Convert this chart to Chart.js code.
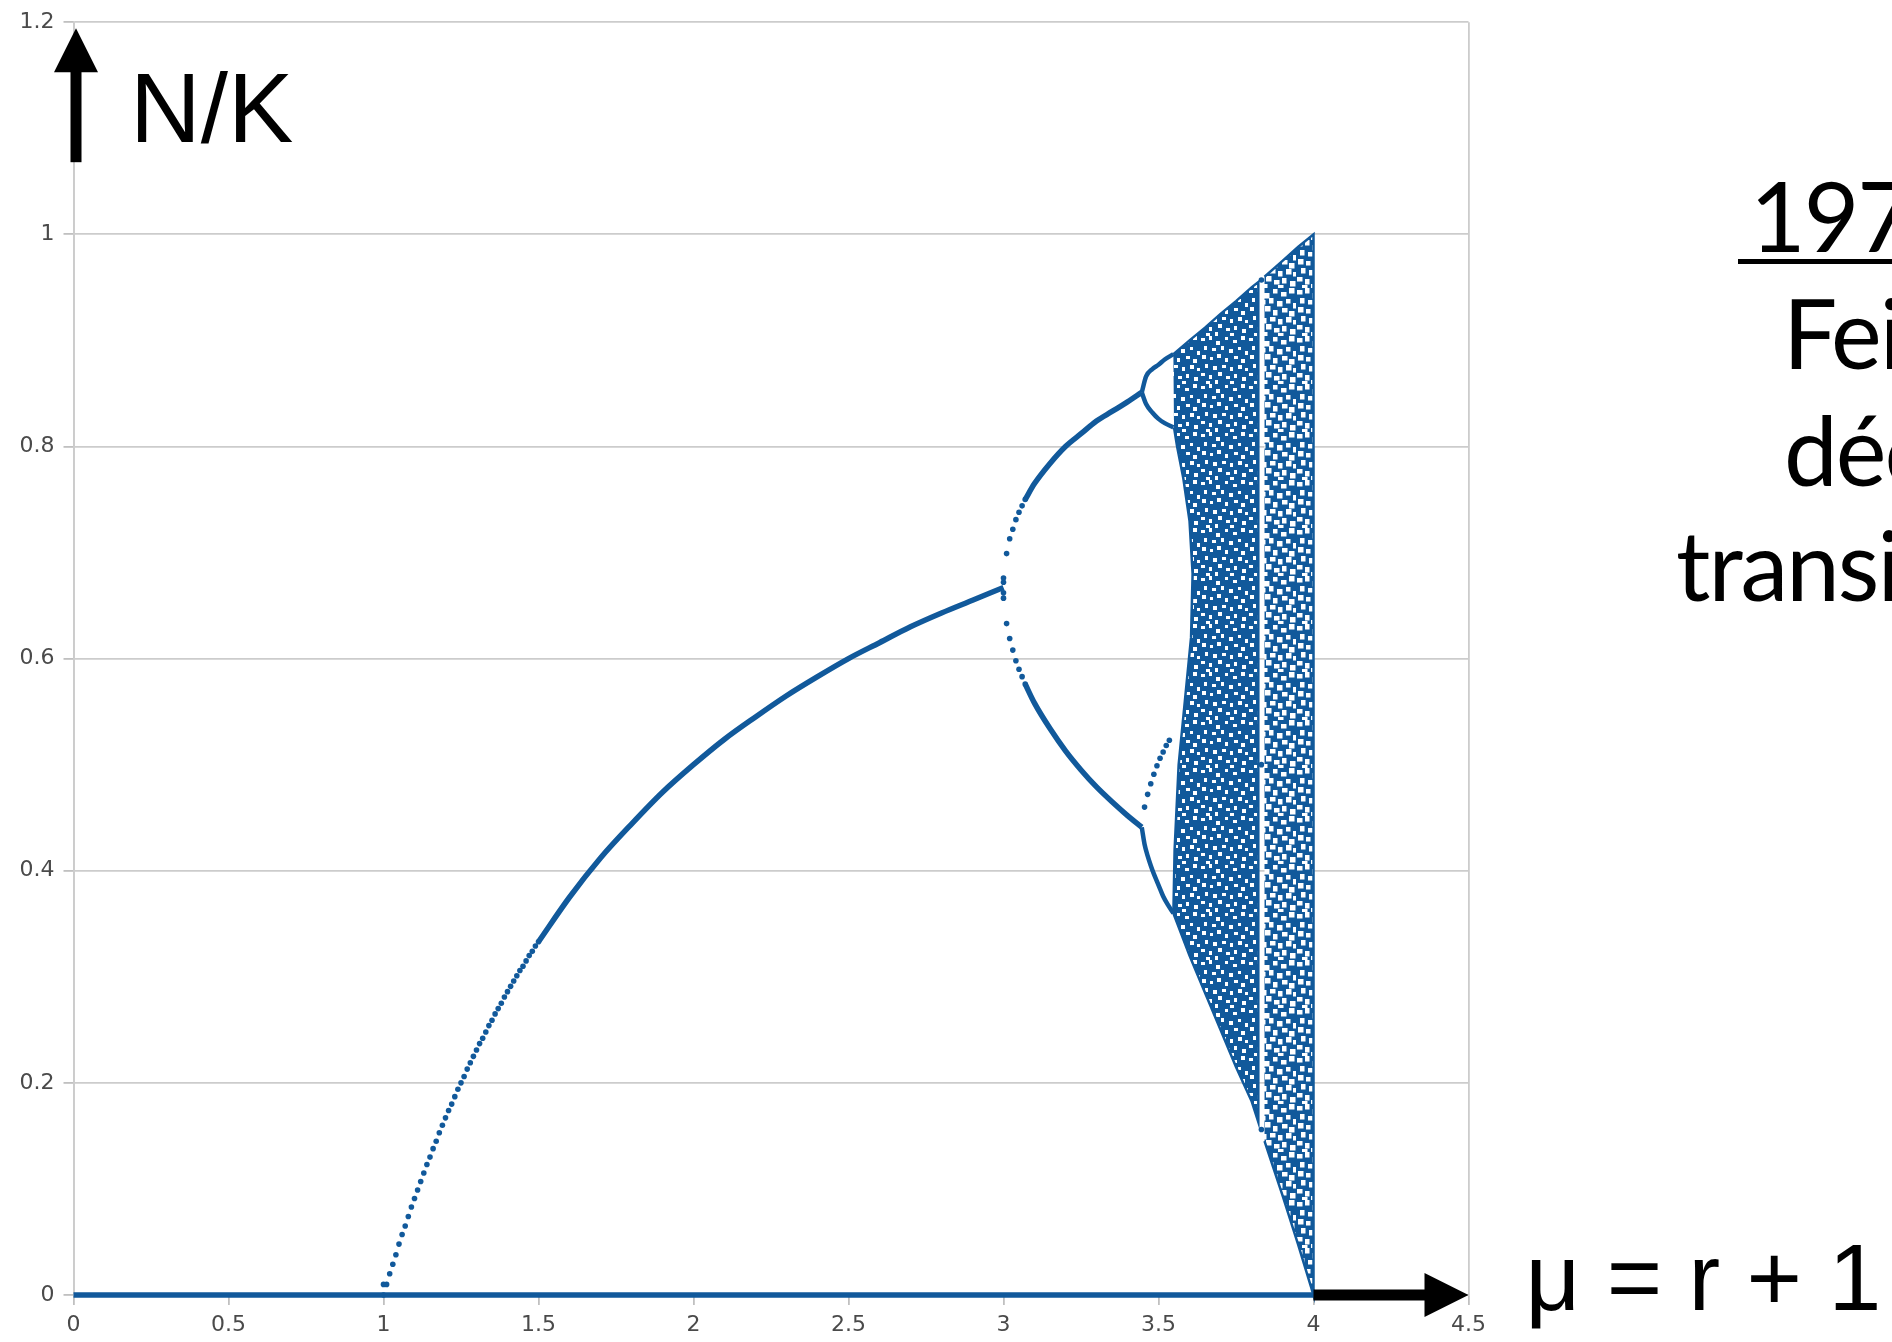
<!DOCTYPE html>
<html>
<head>
<meta charset="utf-8">
<script src="https://cdn.jsdelivr.net/npm/chart.js@4.4.0/dist/chart.umd.min.js"></script>
<style>
  html, body { margin: 0; padding: 0; background: #fff; overflow: hidden; }
  canvas { display: block; }
</style>
</head>
<body>
<canvas id="bif" width="1892" height="1342"></canvas>
<script>
// axes
const xTicks = [0, 0.5, 1, 1.5, 2, 2.5, 3, 3.5, 4, 4.5];
const yTicks = [0, 0.2, 0.4, 0.6, 0.8, 1, 1.2];

// N/K = 0 pour tout mu
const zeroX = [0, 4];
const zeroY = [0, 0];

// branche stable, partie en pointillés près de mu = 1
const stableDotsX = [1.00, 1.00, 1.01, 1.02, 1.03, 1.04, 1.05, 1.06, 1.07, 1.08, 1.09, 1.10, 1.11, 1.12, 1.13, 1.14, 1.15,
  1.16, 1.17, 1.18, 1.19, 1.20, 1.21, 1.22, 1.23, 1.24, 1.25, 1.26, 1.27, 1.28, 1.29, 1.30,
  1.31, 1.32, 1.33, 1.34, 1.35, 1.36, 1.37, 1.38, 1.39, 1.40,
  1.41, 1.42, 1.43, 1.44, 1.45, 1.46, 1.47, 1.48, 1.49, 1.50];
const stableDotsY = [0, 0.010, 0.010, 0.020, 0.029, 0.038, 0.048, 0.057, 0.065, 0.074, 0.083, 0.091, 0.099, 0.107, 0.115, 0.123, 0.130,
  0.138, 0.145, 0.153, 0.160, 0.167, 0.174, 0.180, 0.187, 0.194, 0.200, 0.206, 0.213, 0.219, 0.225, 0.231,
  0.237, 0.242, 0.248, 0.254, 0.259, 0.265, 0.270, 0.275, 0.281, 0.286,
  0.291, 0.296, 0.301, 0.306, 0.310, 0.315, 0.320, 0.324, 0.329, 0.333];

// branche stable, trait continu
const stableX = [1.50, 1.60, 1.70, 1.80, 1.90, 2.00, 2.10, 2.20, 2.30, 2.40, 2.50, 2.60, 2.70, 2.80, 2.90, 3.00];
const stableY = [0.333, 0.375, 0.412, 0.444, 0.474, 0.500, 0.524, 0.545, 0.565, 0.583, 0.600, 0.615, 0.630, 0.643, 0.655, 0.667];

// première bifurcation (période 2)
const p2DotsX = [3.00, 3.00, 3.00, 3.00, 3.01, 3.02, 3.03, 3.04, 3.05, 3.06, 3.07, 3.01, 3.02, 3.03, 3.04, 3.05, 3.06, 3.07];
const p2DotsY = [0.657, 0.662, 0.672, 0.676, 0.699, 0.713, 0.722, 0.731, 0.738, 0.744, 0.750, 0.633, 0.619, 0.608, 0.598, 0.590, 0.583, 0.576];
const p2X = [3.07, 3.10, 3.15, 3.20, 3.25, 3.30, 3.35, 3.40, 3.446];
const p2UpY = [0.750, 0.765, 0.784, 0.800, 0.812, 0.824, 0.833, 0.842, 0.851];
const p2LowY = [0.576, 0.558, 0.534, 0.513, 0.495, 0.479, 0.465, 0.452, 0.441];

// deuxième bifurcation (période 4)
const p4X = [3.446, 3.46, 3.48, 3.50, 3.52, 3.548];
const p4HighUpY = [0.851, 0.866, 0.873, 0.877, 0.882, 0.887];
const p4HighLowY = [0.851, 0.840, 0.832, 0.826, 0.822, 0.818];
const p4LowUpX = [3.455, 3.465, 3.475, 3.485, 3.495, 3.505, 3.515, 3.525, 3.535];
const p4LowUpY = [0.460, 0.472, 0.482, 0.491, 0.499, 0.506, 0.512, 0.518, 0.523];
const p4LowDownX = [3.446, 3.455, 3.465, 3.475, 3.485, 3.495, 3.505, 3.515, 3.53, 3.548];
const p4LowDownY = [0.441, 0.425, 0.414, 0.405, 0.397, 0.390, 0.383, 0.376, 0.368, 0.360];

// zone chaotique (contour), avant et après la fenêtre blanche vers 3.83
const chaosAX = [3.548, 3.60, 3.65, 3.70, 3.75, 3.80, 3.822, 3.822, 3.80, 3.75, 3.70, 3.65, 3.60, 3.548,
  3.552, 3.565, 3.585, 3.605, 3.61, 3.60, 3.58, 3.56, 3.55];
const chaosAY = [0.887, 0.900, 0.912, 0.925, 0.937, 0.950, 0.955, 0.163, 0.183, 0.215, 0.250, 0.285, 0.320, 0.360,
  0.42, 0.50, 0.56, 0.62, 0.68, 0.73, 0.77, 0.80, 0.818];
const chaosBX = [3.842, 3.90, 3.95, 4.00, 4.00, 3.95, 3.90, 3.842];
const chaosBY = [0.960, 0.975, 0.988, 1.00, 0.00, 0.048, 0.094, 0.145];

// fenêtre de période 3
const p3X = [3.832, 3.832, 3.832];
const p3Y = [0.957, 0.500, 0.156];

const blue = '#11599b';
const pts = (xs, ys) => xs.map((x, i) => ({ x: x, y: ys[i] }));

// texture mouchetée pour remplir la zone chaotique
const specks = [[1,2,4,3],[9,0,3,4],[16,5,4,4],[25,1,3,3],[33,4,4,3],[41,0,4,4],[4,10,3,4],[12,12,4,3],
  [21,10,3,4],[29,13,4,4],[38,11,3,3],[45,15,3,4],[2,19,4,4],[10,21,3,3],[17,18,4,4],[25,22,3,4],[34,20,4,3],
  [41,23,4,4],[5,28,3,4],[13,30,4,4],[22,29,4,3],[30,31,3,4],[38,29,4,4],[45,32,3,3],[1,37,4,3],[9,39,3,4],
  [18,36,4,4],[26,40,4,3],[34,38,3,4],[42,41,4,4],[6,45,4,3],[15,44,3,4],[30,45,4,3]];
function speckle(grow) {
  const cv = document.createElement('canvas');
  cv.width = 48; cv.height = 48;
  const g = cv.getContext('2d');
  g.fillStyle = blue;
  g.fillRect(0, 0, 48, 48);
  g.fillStyle = '#fff';
  specks.forEach(s => g.fillRect(s[0], s[1], s[2] + grow, s[3] + grow));
  return g.createPattern(cv, 'repeat');
}
const denseTex = speckle(0);
const sparseTex = speckle(1.5);

const lineSet = (xs, ys, w) => ({
  data: pts(xs, ys), showLine: true, borderColor: blue, borderWidth: w, clip: false,
  pointRadius: 0, cubicInterpolationMode: 'monotone', fill: false
});
const dotSet = (xs, ys) => ({
  data: pts(xs, ys), showLine: false, pointRadius: 2.8, pointBorderWidth: 0, clip: false,
  pointBackgroundColor: blue, backgroundColor: blue
});
const bandSet = (xs, ys, tex) => ({
  data: pts(xs, ys), showLine: true, borderColor: blue, borderWidth: 2.5, tension: 0, clip: false,
  pointRadius: 0, fill: 'shape', backgroundColor: tex
});

const gridGrey = '#cccccc';
const labelGrey = '#4a4a4a';

const overlay = {
  id: 'overlay',
  afterDraw(chart) {
    const c = chart.ctx;
    const xs = chart.scales.x, ys = chart.scales.y;
    c.save();
    c.fillStyle = '#000';

    // flèche verticale
    const ax = xs.getPixelForValue(0) + 2.5;
    const tipY = ys.getPixelForValue(1.2) + 6;
    c.fillRect(ax - 5.5, tipY + 40, 11, 94);
    c.beginPath();
    c.moveTo(ax, tipY);
    c.lineTo(ax + 22, tipY + 44);
    c.lineTo(ax - 22, tipY + 44);
    c.closePath();
    c.fill();

    // flèche horizontale
    const hy = ys.getPixelForValue(0);
    const hx0 = xs.getPixelForValue(4);
    const hx1 = xs.getPixelForValue(4.5);
    c.fillRect(hx0, hy - 5.5, hx1 - hx0 - 40, 11);
    c.beginPath();
    c.moveTo(hx1, hy);
    c.lineTo(hx1 - 44, hy - 22);
    c.lineTo(hx1 - 44, hy + 22);
    c.closePath();
    c.fill();

    c.textBaseline = 'alphabetic';
    c.textAlign = 'left';
    c.font = '98px "Liberation Sans", Arial, sans-serif';
    c.fillText('N/K', ax + 54, tipY + 114);
    c.font = '95px "Liberation Sans", Arial, sans-serif';
    c.fillText('\u03bc = r + 1', hx1 + 57, hy + 15);

    // texte de la diapositive, coupé au bord droit
    c.font = '96px Lato, "Open Sans", sans-serif';
    c.letterSpacing = '-2px';
    c.fillText('1978', 1750, 252);
    c.fillRect(1738, 259, chart.width - 1738, 5);
    c.fillText('Feigenbaum', 1783, 369);
    c.fillText('découvre la', 1784, 486);
    c.fillText('transition vers', 1676, 601);
    c.restore();
  }
};

new Chart(document.getElementById('bif'), {
  type: 'scatter',
  data: {
    datasets: [
      bandSet(chaosAX, chaosAY, denseTex),
      bandSet(chaosBX, chaosBY, sparseTex),
      lineSet(zeroX, zeroY, 5.5),
      dotSet(stableDotsX, stableDotsY),
      lineSet(stableX, stableY, 5.5),
      dotSet(p2DotsX, p2DotsY),
      lineSet(p2X, p2UpY, 5.5),
      lineSet(p2X, p2LowY, 5.5),
      lineSet(p4X, p4HighUpY, 4.5),
      lineSet(p4X, p4HighLowY, 4.5),
      dotSet(p4LowUpX, p4LowUpY),
      lineSet(p4LowDownX, p4LowDownY, 4.5),
      dotSet(p3X, p3Y)
    ]
  },
  options: {
    responsive: false,
    animation: false,
    events: [],
    layout: { padding: { top: 22, right: 423.5, left: 0, bottom: 0 } },
    plugins: { legend: { display: false }, tooltip: { enabled: false } },
    scales: {
      x: {
        type: 'linear', min: 0, max: 4.5,
        afterBuildTicks: s => { s.ticks = xTicks.map(v => ({ value: v })); },
        afterFit: s => { s.height = 47; },
        grid: {
          color: ctx => (ctx.tick && (ctx.tick.value === 0 || ctx.tick.value === 4.5)) ? gridGrey : 'rgba(0,0,0,0)',
          tickColor: '#c0c0c0', tickLength: 10, lineWidth: 1.8
        },
        border: { display: true, color: gridGrey, width: 1.8 },
        ticks: { color: labelGrey, padding: 7, font: { family: '"DejaVu Sans"', size: 22 }, maxRotation: 0,
          callback: v => String(v) }
      },
      y: {
        type: 'linear', min: 0, max: 1.2,
        afterBuildTicks: s => { s.ticks = yTicks.map(v => ({ value: v })); },
        afterFit: s => { s.width = 73.5; },
        grid: { color: gridGrey, tickColor: '#c0c0c0', tickLength: 10, lineWidth: 1.8 },
        border: { display: true, color: gridGrey, width: 1.8 },
        ticks: { color: labelGrey, padding: 9, font: { family: '"DejaVu Sans"', size: 22 },
          callback: v => String(v) }
      }
    }
  },
  plugins: [overlay]
});
</script>
</body>
</html>
